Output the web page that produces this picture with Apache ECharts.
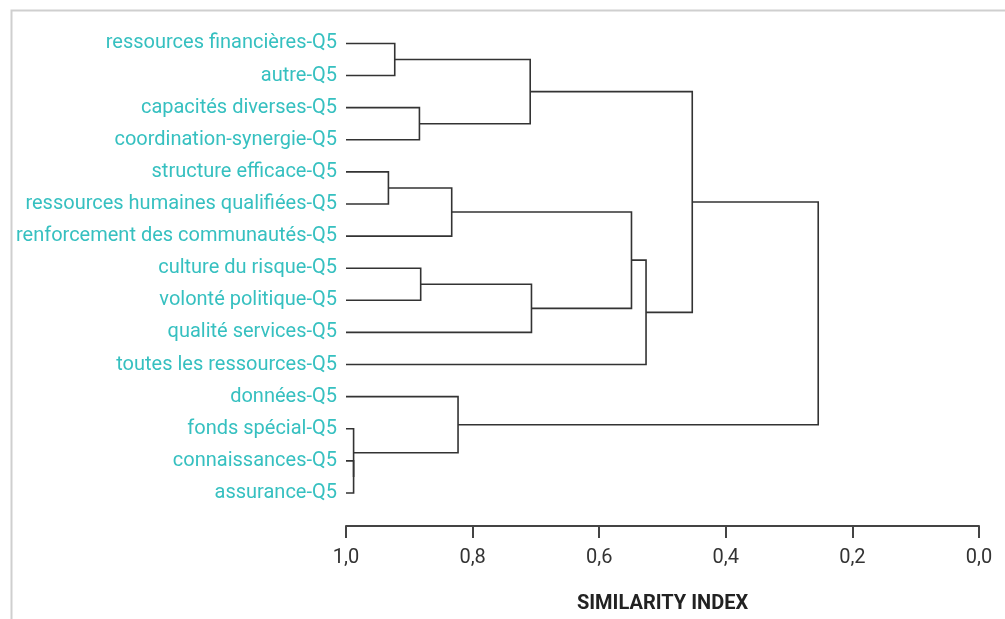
<!DOCTYPE html>
<html>
<head>
<meta charset="utf-8">
<script src="https://cdn.jsdelivr.net/npm/echarts@6/dist/echarts.min.js"></script>
<style>
  html, body { margin: 0; padding: 0; background: #fff; }
  #dendrogram { width: 1005px; height: 619px; }
</style>
</head>
<body>
<div id="dendrogram"></div>
<script>
// leaves, top to bottom
const leaves = [
    'ressources financières-Q5',
    'autre-Q5',
    'capacités diverses-Q5',
    'coordination-synergie-Q5',
    'structure efficace-Q5',
    'ressources humaines qualifiées-Q5',
    'renforcement des communautés-Q5',
    'culture du risque-Q5',
    'volonté politique-Q5',
    'qualité services-Q5',
    'toutes les ressources-Q5',
    'données-Q5',
    'fonds spécial-Q5',
    'connaissances-Q5',
    'assurance-Q5'
];

// merge steps: [child a, child b, similarity]; ids >= 15 point to an earlier merge (15 + step)
const merges = [
    [0, 1, 0.923],
    [2, 3, 0.884],
    [15, 16, 0.709],
    [4, 5, 0.933],
    [18, 6, 0.833],
    [7, 8, 0.882],
    [20, 9, 0.707],
    [19, 21, 0.549],
    [22, 10, 0.526],
    [17, 23, 0.453],
    [13, 14, 0.988],
    [12, 25, 0.988],
    [11, 26, 0.823],
    [24, 27, 0.254]
];

const xTicks = [0, 0.2, 0.4, 0.6, 0.8, 1.0];

const LEAF_COLOR = '#36c0c0';
const LINK_COLOR = '#333';

// every node: similarity and vertical position (mean of its two children)
let nodeHeight = leaves.map(() => 1);
let nodePos = leaves.map((_, i) => i);
let links = [];
merges.forEach(function (m) {
    let a = m[0], b = m[1], h = m[2];
    links.push([nodeHeight[a], nodePos[a], h, nodeHeight[b], nodePos[b]]);
    nodeHeight.push(h);
    nodePos.push((nodePos[a] + nodePos[b]) / 2);
});

let chart = echarts.init(document.getElementById('dendrogram'));

chart.setOption({
    animation: false,
    graphic: [
        {
            type: 'rect',
            left: 9, top: 8,
            shape: { width: 1100, height: 700 },
            style: { fill: 'none', stroke: '#cfcfcf', lineWidth: 2 },
            silent: true
        }
    ],
    grid: { left: 346, right: 26, top: 27.4, bottom: 108.9 },
    xAxis: {
        type: 'value',
        inverse: true,
        min: xTicks[0],
        max: xTicks[xTicks.length - 1],
        interval: 0.2,
        offset: 17,
        axisLine: { onZero: false, lineStyle: { color: '#444', width: 2 } },
        axisTick: { show: true, length: 12, lineStyle: { color: '#444', width: 2 } },
        splitLine: { show: false },
        axisLabel: {
            margin: 22,
            color: '#333',
            fontFamily: 'Roboto',
            fontSize: 20,
            formatter: function (v) { return v.toFixed(1).replace('.', ','); }
        },
        name: 'SIMILARITY INDEX',
        nameLocation: 'middle',
        nameGap: 68,
        nameTextStyle: {
            color: '#222',
            fontFamily: 'Roboto',
            fontWeight: 'bold',
            fontSize: 20
        }
    },
    yAxis: [
        {
            type: 'category',
            inverse: true,
            data: leaves,
            axisLine: { show: false },
            axisTick: { show: false },
            splitLine: { show: false },
            axisLabel: {
                margin: 9,
                color: LEAF_COLOR,
                fontFamily: 'Roboto',
                fontSize: 20
            }
        },
        {
            type: 'value',
            show: false,
            inverse: true,
            min: -0.5,
            max: 14.5,
            splitLine: { show: false }
        }
    ],
    series: [
        {
            type: 'custom',
            xAxisIndex: 0,
            yAxisIndex: 1,
            data: links,
            encode: { x: [0, 2, 3], y: [1, 4] },
            renderItem: function (params, api) {
                let p1 = api.coord([api.value(0), api.value(1)]);
                let p2 = api.coord([api.value(2), api.value(1)]);
                let p3 = api.coord([api.value(2), api.value(4)]);
                let p4 = api.coord([api.value(3), api.value(4)]);
                return {
                    type: 'polyline',
                    shape: { points: [p1, p2, p3, p4] },
                    style: { fill: null, stroke: LINK_COLOR, lineWidth: 1.6 }
                };
            }
        }
    ]
});

window.addEventListener('resize', function () {
    chart?.resize();
});
</script>
</body>
</html>
